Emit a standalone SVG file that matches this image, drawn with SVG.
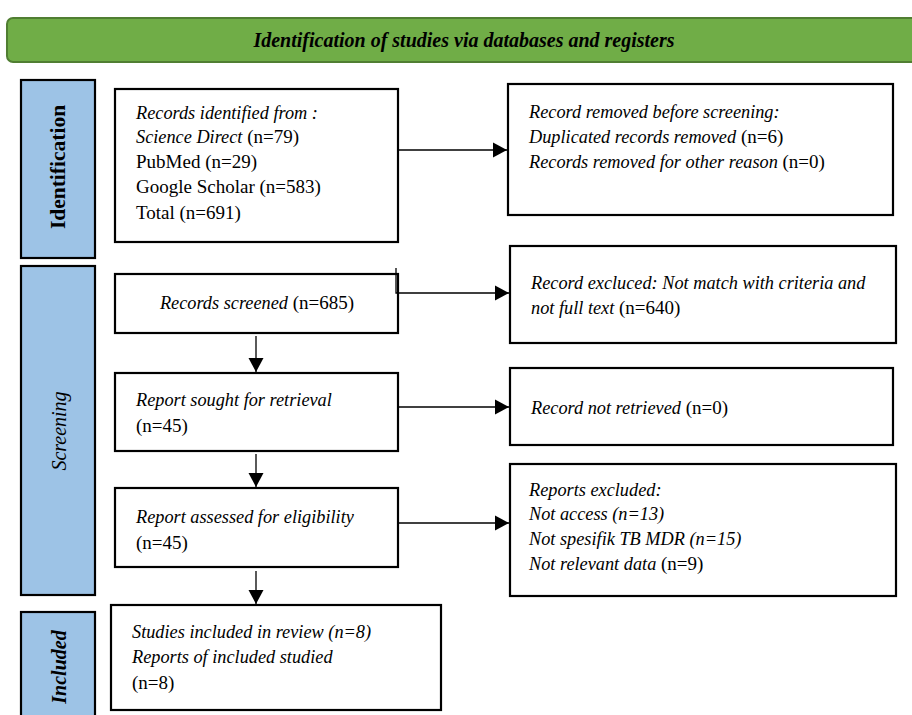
<svg xmlns="http://www.w3.org/2000/svg" width="912" height="715" viewBox="0 0 912 715">
<defs>
<style>
.box{fill:#fff;stroke:#000;stroke-width:2.2}
.side{fill:#9DC3E6;stroke:#000;stroke-width:2.2}
.t{font-family:"Liberation Serif","Times New Roman",serif;font-size:19px;fill:#000}
.i{font-style:italic;font-size:18.3px}
.side-t{font-family:"Liberation Serif","Times New Roman",serif;font-size:20px;fill:#000}
.con{fill:none;stroke:#000;stroke-width:1.3}
</style>
<marker id="ah" markerUnits="userSpaceOnUse" markerWidth="16" markerHeight="16" refX="14" refY="8" orient="auto">
<path d="M0,0.5 L14,8 L0,15.5 Z" fill="#000"/>
</marker>
</defs>
<rect width="912" height="715" fill="#fff"/>

<g id="banner">
<rect x="7" y="18" width="920" height="44" rx="6" ry="6" fill="#70AD47" stroke="#507E32" stroke-width="2"/>
<text x="464" y="47" text-anchor="middle" class="t" font-style="italic" font-weight="bold" style="font-size:20px">Identification of studies via databases and registers</text>
</g>

<g id="phase-identification">
<rect class="side" x="21" y="80" width="74" height="178"/>
<text class="side-t" font-weight="bold" text-anchor="middle" style="font-size:21.5px" transform="translate(65,167) rotate(-90)">Identification</text>
</g>
<g id="phase-screening">
<rect class="side" x="21" y="266" width="74" height="329"/>
<text class="side-t" font-style="italic" text-anchor="middle" transform="translate(66,431) rotate(-90)">Screening</text>
</g>
<g id="phase-included">
<rect class="side" x="21" y="612" width="74" height="120"/>
<text class="side-t" font-style="italic" font-weight="bold" text-anchor="middle" transform="translate(66,667) rotate(-90)">Included</text>
</g>

<g id="records-identified">
<rect class="box" x="115" y="89" width="283" height="153"/>
<text class="t" x="136" y="119"><tspan class="i">Records identified from :</tspan></text>
<text class="t" x="136" y="143"><tspan class="i">Science Direct</tspan> (n=79)</text>
<text class="t" x="136" y="168">PubMed (n=29)</text>
<text class="t" x="136" y="193">Google Scholar (n=583)</text>
<text class="t" x="136" y="219">Total (n=691)</text>
</g>

<g id="records-removed">
<rect class="box" x="508" y="84" width="385" height="131"/>
<text class="t" x="529" y="118"><tspan class="i">Record removed before screening:</tspan></text>
<text class="t" x="529" y="143"><tspan class="i">Duplicated records removed</tspan> (n=6)</text>
<text class="t" x="529" y="168"><tspan class="i">Records removed for other reason</tspan> (n=0)</text>
</g>

<g id="records-screened">
<rect class="box" x="115" y="274" width="283" height="59"/>
<text class="t" x="257" y="309" text-anchor="middle"><tspan class="i">Records screened</tspan> (n=685)</text>
</g>

<g id="records-excluded">
<rect class="box" x="510" y="246" width="386" height="97"/>
<text class="t" x="531" y="289"><tspan class="i">Record excluced: Not match with criteria and</tspan></text>
<text class="t" x="531" y="314"><tspan class="i">not full text</tspan> (n=640)</text>
</g>

<g id="report-sought">
<rect class="box" x="115" y="373" width="283" height="78"/>
<text class="t" x="136" y="406"><tspan class="i">Report sought for retrieval</tspan></text>
<text class="t" x="136" y="432">(n=45)</text>
</g>

<g id="record-not-retrieved">
<rect class="box" x="510" y="368" width="383" height="77"/>
<text class="t" x="531" y="414"><tspan class="i">Record not retrieved</tspan> (n=0)</text>
</g>

<g id="report-assessed">
<rect class="box" x="115" y="488" width="283" height="79"/>
<text class="t" x="136" y="523"><tspan class="i">Report assessed for eligibility</tspan></text>
<text class="t" x="136" y="549">(n=45)</text>
</g>

<g id="reports-excluded">
<rect class="box" x="510" y="464" width="386" height="132"/>
<text class="t" x="529" y="496"><tspan class="i">Reports excluded:</tspan></text>
<text class="t" x="529" y="520"><tspan class="i">Not access (n=13)</tspan></text>
<text class="t" x="529" y="545"><tspan class="i">Not spesifik TB MDR (n=15)</tspan></text>
<text class="t" x="529" y="570"><tspan class="i">Not relevant data</tspan> (n=9)</text>
</g>

<g id="studies-included">
<rect class="box" x="111" y="605" width="330" height="105"/>
<text class="t" x="132" y="638"><tspan class="i">Studies included in review (n=8)</tspan></text>
<text class="t" x="132" y="663"><tspan class="i">Reports of included studied</tspan></text>
<text class="t" x="132" y="689">(n=8)</text>
</g>

<g id="connectors">
<path class="con" d="M398,150 H507" marker-end="url(#ah)"/>
<path class="con" d="M396,268 V293 H509" marker-end="url(#ah)"/>
<path class="con" d="M398,407 H509" marker-end="url(#ah)"/>
<path class="con" d="M398,523 H509" marker-end="url(#ah)"/>
<path class="con" d="M256,336 V372" marker-end="url(#ah)"/>
<path class="con" d="M256,454 V487" marker-end="url(#ah)"/>
<path class="con" d="M256,571 V604" marker-end="url(#ah)"/>
</g>
</svg>
